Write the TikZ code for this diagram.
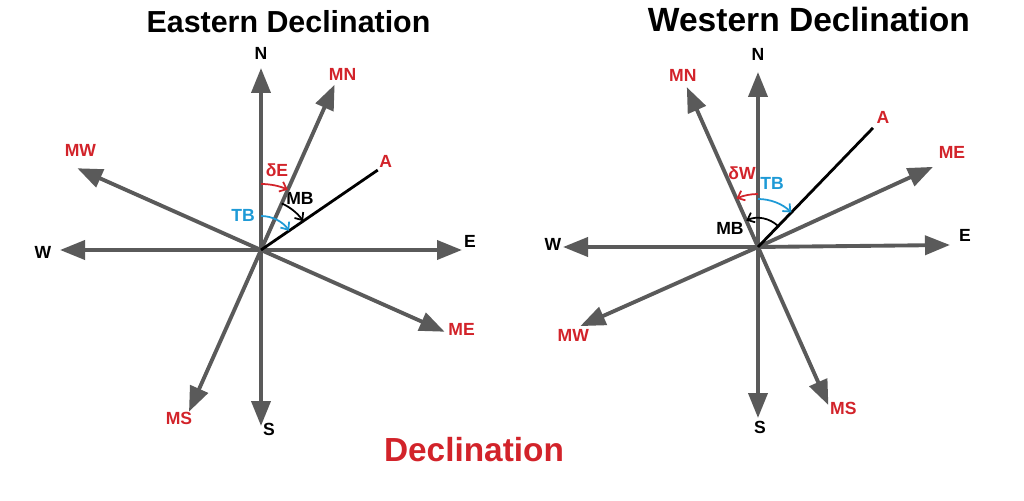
\documentclass[tikz,border=0pt]{standalone}
\usepackage{fontspec}
\setmainfont{Liberation Sans}
\usetikzlibrary{arrows.meta,calc,angles}
\definecolor{axisgray}{HTML}{5A5A5A}
\definecolor{magred}{HTML}{D2232A}
\definecolor{tbblue}{HTML}{1E9AD6}

\begin{document}
\begin{tikzpicture}[>={Straight Barb[length=3.5pt,width=6pt]},
  axis/.style={draw=axisgray,line width=2.2pt,-{Triangle[length=0.5cm,width=0.38cm]}},
  bearing/.style={draw=black,line width=1.6pt},
  lbl/.style={font=\bfseries\fontsize{10}{12}\selectfont,inner sep=0},
  truelbl/.style={lbl,text=black},
  maglbl/.style={lbl,text=magred},
  title/.style={font=\bfseries\fontsize{18}{22}\selectfont,inner sep=0},
  declarc/.style={draw=magred,line width=1pt},
  tbarc/.style={draw=tbblue,line width=1pt},
  mbarc/.style={draw=black,line width=1pt}]

\useasboundingbox (0,0) rectangle (20.48,-10.02);

% Titles
\node[title,font=\bfseries\fontsize{17.3}{21}\selectfont] (east) at (5.77,-0.44) {Eastern Declination};
\node[title,font=\bfseries\fontsize{19.1}{23}\selectfont] (west) at (16.18,-0.40) {Western Declination};
\node[title,text=magred,font=\bfseries\fontsize{19}{23}\selectfont] (decl) at (9.48,-9.00) {Declination};

%%%% Eastern declination
\coordinate (c1) at (5.22,-5.00);
\coordinate (n1) at ($(c1)+(90:3.64)$);
\coordinate (s1) at ($(c1)+(270:3.52)$);
\coordinate (e1) at ($(c1)+(0:4.02)$);
\coordinate (w1) at ($(c1)+(180:4.02)$);
\coordinate (mn1) at ($(c1)+(66:3.62)$);
\coordinate (me1) at ($(c1)+(-24:4.02)$);
\coordinate (ms1) at ($(c1)+(246:3.54)$);
\coordinate (mw1) at ($(c1)+(156:4.02)$);
\coordinate (a1) at ($(c1)+(34.4:2.83)$);

% Nodes
\node[truelbl] (tN1) at ($(n1)+(0,.30)$) {N};
\node[truelbl] (tS1) at ($(s1)+(.16,-.06)$) {S};
\node[truelbl] (tE1) at ($(e1)+(.16,.18)$) {E};
\node[truelbl] (tW1) at ($(w1)+(-.34,-.04)$) {W};
\node[maglbl] (tMN1) at ($(mn1)+(.16,.20)$) {MN};
\node[maglbl] (tME1) at ($(me1)+(.34,.04)$) {ME};
\node[maglbl] (tMS1) at ($(ms1)+(-.20,-.14)$) {MS};
\node[maglbl] (tMW1) at ($(mw1)+(.06,.36)$) {MW};
\node[maglbl] (tA1) at ($(a1)+(.16,.18)$) {A};
\node[maglbl] (dE) at ($(c1)+(.32,1.60)$) {δE};
\node[truelbl] (mb1) at ($(c1)+(.78,1.04)$) {MB};
\node[lbl,text=tbblue] (tb1) at ($(c1)+(-.36,.70)$) {TB};

%arcs
\path (c1) edge[axis] (n1);
\path (c1) edge[axis] (s1);
\path (c1) edge[axis] (e1);
\path (c1) edge[axis] (w1);
\path (c1) edge[axis] (mn1);
\path (c1) edge[axis] (me1);
\path (c1) edge[axis] (ms1);
\path (c1) edge[axis] (mw1);
\path (c1) edge[bearing] (a1);

\pic[declarc,<-,angle radius=1.32cm] {angle = mn1--c1--n1};
\pic[mbarc,<-,angle radius=1.02cm] {angle = a1--c1--mn1};
\pic[tbarc,<-,angle radius=0.68cm] {angle = a1--c1--n1};

%%%% Western declination
\coordinate (c2) at (15.16,-4.94);
\coordinate (n2) at ($(c2)+(90:3.50)$);
\coordinate (s2) at ($(c2)+(270:3.42)$);
\coordinate (e2) at ($(c2)+(0.6:3.84)$);
\coordinate (w2) at ($(c2)+(180:3.90)$);
\coordinate (mn2) at ($(c2)+(114:3.50)$);
\coordinate (me2) at ($(c2)+(24.6:3.85)$);
\coordinate (ms2) at ($(c2)+(294:3.46)$);
\coordinate (mw2) at ($(c2)+(204:3.89)$);
\coordinate (a2) at ($(c2)+(46:3.31)$);

% Nodes
\node[truelbl] (tN2) at ($(n2)+(0,.36)$) {N};
\node[truelbl] (tS2) at ($(s2)+(.04,-.18)$) {S};
\node[truelbl] (tE2) at ($(e2)+(.30,.20)$) {E};
\node[truelbl] (tW2) at ($(w2)+(-.20,.06)$) {W};
\node[maglbl] (tMN2) at ($(mn2)+(-.08,.24)$) {MN};
\node[maglbl] (tME2) at ($(me2)+(.38,.28)$) {ME};
\node[maglbl] (tMS2) at ($(ms2)+(.30,-.06)$) {MS};
\node[maglbl] (tMW2) at ($(mw2)+(-.14,-.18)$) {MW};
\node[maglbl] (tA2) at ($(a2)+(.20,.20)$) {A};
\node[maglbl] (dW) at ($(c2)+(-.32,1.48)$) {δW};
\node[truelbl] (mb2) at ($(c2)+(-.56,.38)$) {MB};
\node[lbl,text=tbblue] (tb2) at ($(c2)+(.28,1.28)$) {TB};

%arcs
\path (c2) edge[axis] (n2);
\path (c2) edge[axis] (s2);
\path (c2) edge[axis] (e2);
\path (c2) edge[axis] (w2);
\path (c2) edge[axis] (mn2);
\path (c2) edge[axis] (me2);
\path (c2) edge[axis] (ms2);
\path (c2) edge[axis] (mw2);
\path (c2) edge[bearing] (a2);

\pic[declarc,->,angle radius=1.06cm] {angle = n2--c2--mn2};
\pic[mbarc,->,angle radius=0.58cm] {angle = a2--c2--mn2};
\pic[tbarc,<-,angle radius=0.96cm] {angle = a2--c2--n2};

\end{tikzpicture}
\end{document}
